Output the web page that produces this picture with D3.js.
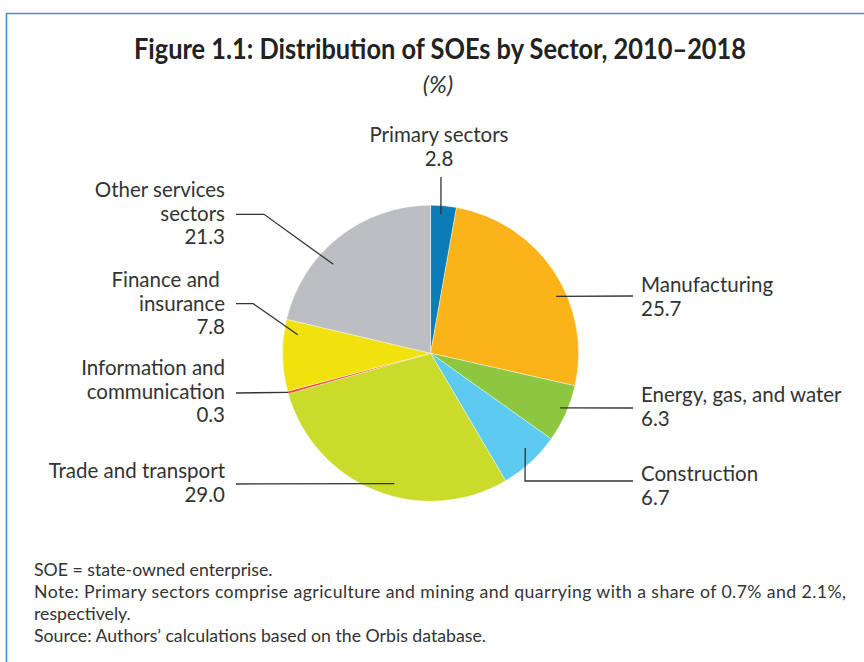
<!DOCTYPE html>
<html>
<head>
<meta charset="utf-8">
<script src="https://cdn.jsdelivr.net/npm/d3@7"></script>
<style>
  html, body { margin: 0; padding: 0; background: #fff; }
  svg { display: block; }
  text { font-family: Lato, "Open Sans", "DejaVu Sans", sans-serif; fill: #333; }
</style>
</head>
<body>
<svg id="chart" width="864" height="662"></svg>
<script>
// Sector shares of state-owned enterprises, 2010–2018 (%), clockwise from 12 o'clock
const sectors = [
  "Primary sectors", "Manufacturing", "Energy, gas, and water", "Construction",
  "Trade and transport", "Information and communication", "Finance and insurance",
  "Other services sectors"
];
const shares = [2.8, 25.7, 6.3, 6.7, 29.0, 0.3, 7.8, 21.3];
const colors = ["#0a7db8", "#fbb31a", "#8dc63f", "#5ccbef", "#cadb2b", "#ef4b3a", "#f1e20e", "#bdbec1"];

// Label text lines (name split as printed)
const labelLines = [
  ["Primary sectors"],
  ["Manufacturing"],
  ["Energy, gas, and water"],
  ["Construction"],
  ["Trade and transport"],
  ["Information and", "communication"],
  ["Finance and ", "insurance"],
  ["Other services", "sectors"]
];

const titleText = "Figure 1.1: Distribution of SOEs by Sector, 2010\u20132018";
const subtitleText = "(%)";
const notes = [
  "SOE = state-owned enterprise.",
  "Note: Primary sectors comprise agriculture and mining and quarrying with a share of 0.7% and 2.1%,",
  "respectively.",
  "Source: Authors\u2019 calculations based on the Orbis database."
];

const svg = d3.select("#chart");
const W = 864, H = 662;

// Frame (top and left rules)
svg.append("path")
  .attr("d", `M6.5,${H} V13.5 H${W}`)
  .attr("fill", "none")
  .attr("stroke", "#3b93c7")
  .attr("stroke-width", 1.6);

// Title
svg.append("text")
  .attr("x", 440).attr("y", 59)
  .attr("text-anchor", "middle")
  .attr("font-size", 29).attr("font-weight", 700)
  .attr("textLength", 612).attr("lengthAdjust", "spacingAndGlyphs")
  .style("fill", "#222")
  .text(titleText);
svg.append("text")
  .attr("x", 438).attr("y", 93)
  .attr("text-anchor", "middle")
  .attr("font-size", 24).attr("font-style", "italic")
  .text(subtitleText);

// Pie
const cx = 430.6, cy = 353.2, R = 148;
const data = sectors.map((s, i) => ({ sector: s, value: shares[i], color: colors[i], lines: labelLines[i] }));
const pie = d3.pie().value(d => d.value).sort(null);
const arcs = pie(data);
const arc = d3.arc().innerRadius(0).outerRadius(R);

const g = svg.append("g").attr("transform", `translate(${cx},${cy})`);
g.selectAll("path.slice")
  .data(arcs)
  .join("path")
  .attr("class", "slice")
  .attr("d", arc)
  .attr("fill", d => d.data.color)
  .attr("stroke", "#fff")
  .attr("stroke-width", 0.4);

// Leader layout: anchor inside the slice (fraction of angle span, radius),
// then the bend/end points and the label block placement
const leaders = [
  { t: 0.42, r: 139.6, path: [[441, 177]], anchor: "middle", x: 439, y: 142 },
  { t: 0.60, r: 137.8, path: [[633, 296]], anchor: "start", x: 641, y: 292 },
  { t: 0.45, r: 140.5, path: [[633, 408]], anchor: "start", x: 641, y: 402 },
  { t: 0.40, r: 134.0, path: [[525, 481], [633, 481]], anchor: "start", x: 641, y: 481 },
  { t: 0.44, r: 135.4, path: [[236, 484]], anchor: "end", x: 225, y: 478 },
  { t: 0.55, r: 147.8, path: [[236, 393]], anchor: "end", x: 225, y: 375 },
  { t: 0.81, r: 134.1, path: [[253.3, 303.7], [236, 303.7]], anchor: "end", x: 225, y: 287 },
  { t: 0.38, r: 131.8, path: [[264, 214.3], [236, 214.3]], anchor: "end", x: 225, y: 197 }
];

const lineH = 23.5;
arcs.forEach((a, i) => {
  const L = leaders[i];
  const ang = a.startAngle + (a.endAngle - a.startAngle) * L.t;
  const p = d3.pointRadial(ang, L.r);
  const pts = [[cx + p[0], cy + p[1]], ...L.path];
  svg.append("path")
    .attr("d", d3.line()(pts))
    .attr("fill", "none")
    .attr("stroke", "#333")
    .attr("stroke-width", 1.3);

  const txt = svg.append("text")
    .attr("text-anchor", L.anchor)
    .attr("font-size", 20.5)
    .style("white-space", "pre");
  const lines = [...a.data.lines, d3.format(".1f")(a.data.value)];
  lines.forEach((ln, k) => {
    txt.append("tspan")
      .attr("x", L.x)
      .attr("y", L.y + k * lineH)
      .text(ln);
  });
});

// Notes
const noteG = svg.append("g").attr("font-size", 17.7);
notes.forEach((n, k) => {
  const t = noteG.append("text")
    .attr("x", 34)
    .attr("y", 576 + k * 22)
    .text(n);
  if (k === 1) t.attr("textLength", 812).attr("lengthAdjust", "spacing");
});
</script>
</body>
</html>
